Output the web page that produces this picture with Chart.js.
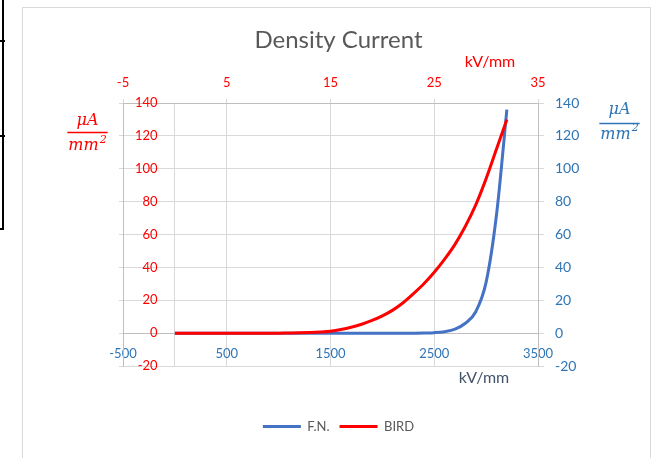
<!DOCTYPE html>
<html>
<head>
<meta charset="utf-8">
<title>Density Current</title>
<script src="https://cdn.jsdelivr.net/npm/chart.js@4.4.1/dist/chart.umd.min.js"></script>
<style>
  html, body { margin: 0; padding: 0; background: #fff; }
  body { width: 659px; height: 458px; position: relative; overflow: hidden; }
  .frame { position: absolute; left: 22px; top: 7px; width: 627px; height: 470px; border: 1px solid #d9d9d9; }
  .sheet { position: absolute; left: -2px; top: -2px; width: 4px; height: 230px; border-right: 2px solid #000; border-bottom: 2px solid #000; }
  .row { position: absolute; left: 0; width: 5px; height: 2px; background: #000; }
  #chart { position: absolute; left: 0; top: 0; }
</style>
</head>
<body>
<div class="sheet"></div>
<div class="row" style="top:40px"></div>
<div class="row" style="top:135px"></div>
<div class="frame"></div>
<canvas id="chart" width="659" height="458"></canvas>
<script>
// field strength (kV/mm) and current density for both emission models
const fieldKv = [0, 100, 200, 300, 400, 500, 600, 700, 800, 900, 1000,
                 1100, 1200, 1300, 1400, 1500, 1600, 1700, 1800, 1900, 2000,
                 2100, 2200, 2300, 2400, 2500, 2600, 2700, 2800, 2900, 3000,
                 3100, 3200];
const fnDensity = [0, 0, 0, 0, 0, 0, 0, 0, 0, 0, 0,
                   0, 0, 0, 0, 0, 0, 0, 0, 0, 0,
                   0, 0, 0, 0.1, 0.3, 0.9, 2.4, 6, 13, 31,
                   72, 136];
const birdDensity = [0, 0, 0, 0, 0, 0, 0, 0, 0, 0, 0,
                     0.1, 0.2, 0.4, 0.7, 1.2, 2.2, 3.6, 5.4, 7.7, 10.5,
                     14, 18.5, 24, 30, 37, 45, 54, 65, 78, 94,
                     112, 130];

const bottomTicks = [-500, 0, 500, 1500, 2500, 3500];
const topTicks = [-5, 5, 15, 25, 35];

const RED = '#ff0000';
const BLUE = '#2e75b6';
const NAVY = '#44546a';
const GRID = '#d9d9d9';
const AXIS = '#bfbfbf';
const tickFont = { family: 'Lato', size: 13 };

function points(ys) {
  return fieldKv.map((x, i) => ({ x: x, y: ys[i] }));
}

// mu-A over mm^2 unit label
function drawFraction(ctx, cx, numY, lineY, denY, color) {
  ctx.fillStyle = color;
  ctx.strokeStyle = color;
  ctx.textBaseline = 'middle';
  ctx.font = 'italic 16px "DejaVu Serif"';
  const mm = ctx.measureText('mm').width;
  ctx.font = 'italic 11px "DejaVu Serif"';
  const two = ctx.measureText('2').width;
  const w = mm + two + 1;

  ctx.font = 'italic 16px "DejaVu Serif"';
  ctx.textAlign = 'center';
  ctx.fillText('\u03bcA', cx, numY);
  ctx.textAlign = 'left';
  ctx.fillText('mm', cx - w / 2, denY);
  ctx.font = 'italic 11px "DejaVu Serif"';
  ctx.fillText('2', cx - w / 2 + mm + 1, denY - 6);

  ctx.lineWidth = 1.5;
  ctx.beginPath();
  ctx.moveTo(cx - w / 2 - 1, lineY);
  ctx.lineTo(cx + w / 2 + 1, lineY);
  ctx.stroke();
}

const unitLabels = {
  id: 'unitLabels',
  afterDraw(chart) {
    const ctx = chart.ctx;
    ctx.save();
    drawFraction(ctx, 87.5, 121, 132.5, 146, RED);
    drawFraction(ctx, 619.5, 110, 123.5, 134.5, BLUE);
    ctx.font = '16px Lato';
    ctx.textAlign = 'center';
    ctx.textBaseline = 'middle';
    ctx.fillStyle = RED;
    ctx.fillText('kV/mm', 490, 62);
    ctx.fillStyle = NAVY;
    ctx.fillText('kV/mm', 484, 378);
    ctx.restore();
  }
};

// BIRD comes first so it is painted over F.N.; the legend is reversed back
new Chart(document.getElementById('chart'), {
  type: 'line',
  data: {
    datasets: [{
      label: 'BIRD',
      data: points(birdDensity),
      borderColor: RED,
      backgroundColor: RED,
      borderWidth: 3,
      pointRadius: 0,
      pointStyle: 'line',
      cubicInterpolationMode: 'monotone',
      xAxisID: 'x',
      yAxisID: 'y'
    }, {
      label: 'F.N.',
      data: points(fnDensity),
      borderColor: '#4472c4',
      backgroundColor: '#4472c4',
      borderWidth: 3,
      pointRadius: 0,
      pointStyle: 'line',
      cubicInterpolationMode: 'monotone',
      xAxisID: 'x',
      yAxisID: 'y2'
    }]
  },
  options: {
    responsive: false,
    animation: false,
    events: [],
    layout: { padding: { left: 22, right: 4, top: 0, bottom: 15 } },
    scales: {
      x: {
        type: 'linear',
        position: { y: 0 },
        min: -500,
        max: 3500,
        afterBuildTicks: s => { s.ticks = bottomTicks.map(v => ({ value: v })); },
        ticks: {
          color: BLUE, font: tickFont, padding: 13, autoSkip: false, maxRotation: 0,
          callback: v => v === 0 ? '' : String(v)
        },
        grid: { color: GRID, drawTicks: false },
        border: { color: AXIS }
      },
      x2: {
        type: 'linear',
        position: 'top',
        min: -5,
        max: 35,
        afterBuildTicks: s => { s.ticks = topTicks.map(v => ({ value: v })); },
        afterFit: s => { s.height = 48.2; },
        ticks: {
          color: RED, font: tickFont, padding: 8, autoSkip: false, maxRotation: 0,
          callback: v => String(v)
        },
        grid: { color: GRID, drawOnChartArea: false, tickLength: 4 },
        border: { color: AXIS }
      },
      x3: {
        type: 'linear',
        position: 'bottom',
        afterFit: s => { s.height = 44; },
        ticks: { display: false },
        grid: { display: false },
        border: { display: false }
      },
      y: {
        type: 'linear',
        position: 'left',
        min: -20,
        max: 140,
        afterFit: s => { s.width = 101; },
        ticks: {
          stepSize: 20, color: RED, font: tickFont,
          mirror: true, crossAlign: 'far', padding: 12
        },
        grid: { color: GRID, tickLength: 4 },
        border: { color: AXIS }
      },
      y2: {
        type: 'linear',
        position: 'right',
        min: -20,
        max: 140,
        afterFit: s => { s.width = 117; },
        ticks: { stepSize: 20, color: BLUE, font: { family: 'Lato', size: 14 }, padding: 11 },
        grid: { color: GRID, drawOnChartArea: false, tickLength: 6 },
        border: { color: AXIS }
      }
    },
    plugins: {
      title: {
        display: true,
        text: 'Density Current',
        color: '#595959',
        font: { family: 'Lato', size: 24, weight: 'normal' },
        padding: { top: 26, bottom: 0 }
      },
      legend: {
        position: 'bottom',
        reverse: true,
        labels: {
          usePointStyle: true,
          pointStyle: 'line',
          pointStyleWidth: 38,
          color: '#595959',
          font: { family: 'Lato', size: 13 },
          padding: 10
        }
      },
      tooltip: { enabled: false }
    }
  },
  plugins: [unitLabels]
});
</script>
</body>
</html>
